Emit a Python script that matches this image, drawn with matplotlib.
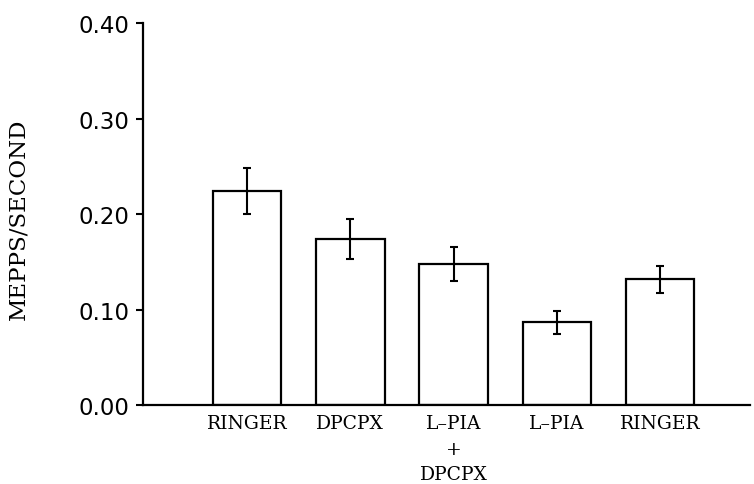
import matplotlib
matplotlib.use("Agg")
import matplotlib.pyplot as plt
import numpy as np

categories = ["RINGER", "DPCPX", "L\u2013PIA\n+\nDPCPX", "L\u2013PIA", "RINGER"]
rates = [0.224, 0.174, 0.148, 0.087, 0.132]
errors = [0.024, 0.021, 0.018, 0.012, 0.014]
yticks = [0.0, 0.1, 0.2, 0.3, 0.4]

fig = plt.figure(figsize=(7.54, 4.85), dpi=100)
ax = fig.add_axes([0.1897, 0.1619, 0.805, 0.7886])

x = np.arange(len(categories))
ax.bar(x, rates, width=0.663, color="white", edgecolor="black", linewidth=1.6)
ax.errorbar(x, rates, yerr=errors, fmt="none", ecolor="black",
            elinewidth=1.5, capsize=2.8, capthick=1.5)

ax.set_xlim(-1.007, 4.87)
ax.set_ylim(0, 0.40)
ax.set_yticks(yticks)
ax.set_yticklabels([f"{v:.2f}" for v in yticks], fontsize=16.5,
                   family="DejaVu Sans")
ax.set_xticks(x)
ax.set_xticklabels(categories, fontsize=13.5, family="DejaVu Serif",
                   linespacing=1.55)
ax.tick_params(axis="x", length=0, pad=6)
ax.tick_params(axis="y", length=5, width=1.5, pad=5, direction="out")

for s in ["top", "right"]:
    ax.spines[s].set_visible(False)
ax.spines["left"].set_linewidth(1.6)
ax.spines["bottom"].set_linewidth(1.6)

ax.set_ylabel("MEPPS/SECOND", fontsize=16.5, family="DejaVu Serif")
ax.yaxis.set_label_coords(-0.187, 0.49)

fig.savefig("out.png", dpi=100)
